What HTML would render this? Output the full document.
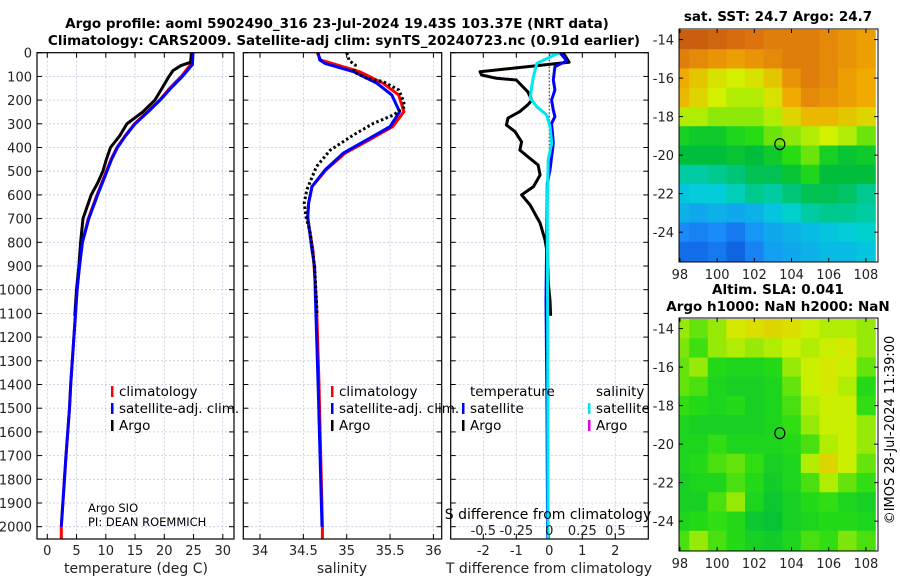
<!DOCTYPE html>
<html><head><meta charset="utf-8">
<style>
html,body{margin:0;padding:0;background:#fff;}
svg{display:block;font-family:"DejaVu Sans","Liberation Sans",sans-serif;}
</style></head>
<body>
<svg id="chart" width="900" height="580" viewBox="0 0 900 580" xmlns="http://www.w3.org/2000/svg">
<defs>
<clipPath id="c1"><rect x="37" y="52.7" width="197" height="486.3"/></clipPath>
<clipPath id="c2"><rect x="243.3" y="52.7" width="198.4" height="486.3"/></clipPath>
<clipPath id="c3"><rect x="450.7" y="52.7" width="197.6" height="486.3"/></clipPath>
<clipPath id="cm1"><rect x="679" y="29" width="199" height="233"/></clipPath>
<clipPath id="cm2"><rect x="679" y="318" width="199" height="233"/></clipPath>
</defs>
<g font-weight="bold" font-size="13.5" text-anchor="middle" fill="#000">
<text x="337" y="28">Argo profile: aoml 5902490_316 23-Jul-2024 19.43S 103.37E (NRT data)</text>
<text x="344" y="45">Climatology: CARS2009. Satellite-adj clim: synTS_20240723.nc (0.91d earlier)</text>
<text x="778" y="21">sat. SST: 24.7 Argo: 24.7</text>
<text x="778" y="294">Altim. SLA: 0.041</text>
<text x="778" y="311">Argo h1000: NaN h2000: NaN</text>
</g>
<text x="0" y="0" font-size="13" text-anchor="middle" transform="translate(894,430) rotate(-90)">©IMOS 28-Jul-2024 11:39:00</text>
<g id="layer"></g>
</svg>
<script>
// ---------- data ----------
const depthTicks=[0,100,200,300,400,500,600,700,800,900,1000,1100,1200,1300,1400,1500,1600,1700,1800,1900,2000];
const tempTicks=[0,5,10,15,20,25,30];
const salTicks=[34,34.5,35,35.5,36];
const tdiffTicks=[-2,-1,0,1,2];
const sdiffTickLabels=["-0.5","-0.25","0","0.25","0.5"];
const sdiffTicks=[-0.5,-0.25,0,0.25,0.5];

const climTDepth=[0,50,100,150,200,250,300,350,400,450,500,600,700,800,900,1000,1400,1500,1700,2000,2050];
const climTVal=[24.6,24.5,22.9,20.9,19.2,17.1,14.9,13.3,11.9,10.9,10.1,8.5,7.0,6.0,5.5,5.1,4.0,3.8,3.2,2.4,2.4];
const satTDepth=[0,50,100,150,200,250,300,350,400,450,500,600,700,800,900,1000,1400,1500,1700,2000];
const satTVal=[24.9,24.8,23.1,21.1,19.3,17.2,15.0,13.4,12.0,11.0,10.2,8.6,7.1,6.0,5.5,5.1,4.0,3.8,3.2,2.4];
const argoTDepth=[0,40,55,75,100,150,200,250,300,350,400,450,500,550,600,700,800,900,1000,1110];
const argoTVal=[24.7,24.5,22.8,21.5,20.8,19.6,18.4,16.3,13.6,12.4,10.8,10.1,9.5,8.6,7.5,6.1,5.7,5.4,5.0,4.7];

const climSDepth=[0,31,80,129,178,249,312,368,424,495,565,635,700,832,1044,1400,2000,2050];
const climSVal=[34.66,34.70,35.15,35.42,35.60,35.66,35.53,35.26,34.98,34.76,34.60,34.56,34.55,34.61,34.65,34.68,34.72,34.72];
const satSDepth=[0,31,45,80,129,178,249,312,368,424,495,565,635,692,832,903,1044,1400,2000];
const satSVal=[34.67,34.69,34.75,35.08,35.35,35.52,35.61,35.50,35.23,34.96,34.75,34.60,34.56,34.55,34.60,34.63,34.64,34.67,34.715];
const argoSDepth=[0,34,52,80,108,122,157,200,228,263,298,347,411,481,579,635,692,761,903,1044,1110];
const argoSVal=[35.0,35.03,35.10,35.08,35.23,35.42,35.60,35.65,35.67,35.54,35.31,35.08,34.81,34.65,34.54,34.51,34.53,34.58,34.63,34.65,34.66];

const argoTDiffDepth=[0,40,80,94,108,115,165,200,220,249,276,305,333,376,411,439,474,516,565,600,643,719,790,846,973,1044,1110];
const argoTDiffVal=[0.42,0.6,-2.1,-2.05,-1.6,-1.0,-0.65,-0.53,-0.65,-0.9,-1.25,-1.3,-1.04,-0.84,-0.89,-0.65,-0.34,-0.28,-0.48,-0.84,-0.58,-0.28,-0.13,-0.06,-0.03,0.02,0.04];
const satTDiffDepth=[0,34,59,115,157,200,242,270,298,382,495,551,1044,1500,2050];
const satTDiffVal=[0.32,0.53,0.17,0.12,0.17,0.07,0.12,0.17,0.07,0.12,0.02,-0.06,-0.1,-0.07,-0.05];
const satSDiffDepth=[0,2,45,101,143,192,228,263,312,382,453,622,1200,2050];
const satSDiffVal=[0.0,0.068,-0.095,-0.12,-0.133,-0.145,-0.095,-0.02,0.005,0.018,-0.008,-0.015,-0.012,-0.01];

const lonTicks=[98,100,102,104,106,108];
const latTicks=[-14,-16,-18,-20,-22,-24];
const mapLons=[98,99,100,101,102,103,104,105,106,107,108];
const mapLats=[-14,-15,-16,-17,-18,-19,-20,-21,-22,-23,-24,-25];
const sstGrid=[
[26.3,26.3,26.2,26.1,26.0,25.9,25.9,25.9,25.8,25.7,25.6],
[25.9,25.8,25.7,25.6,25.7,25.8,25.9,25.9,25.8,25.7,25.6],
[25.5,25.3,25.1,25.0,25.1,25.3,25.7,25.9,25.8,25.6,25.5],
[25.4,25.2,25.0,24.9,24.9,25.1,25.5,25.8,25.7,25.6,25.5],
[24.9,24.9,24.8,24.8,24.8,24.9,25.2,25.4,25.4,25.3,25.2],
[24.3,24.2,24.2,24.4,24.5,24.7,24.8,24.9,25.0,24.9,24.7],
[24.0,24.0,24.0,24.1,24.0,24.2,24.5,24.7,24.3,24.1,24.2],
[23.5,23.5,23.6,23.7,23.9,23.9,24.1,24.4,24.0,24.0,24.0],
[23.1,23.2,23.2,23.4,23.6,23.5,23.7,23.9,23.9,23.8,23.6],
[22.9,22.8,22.9,22.8,22.9,23.1,23.3,23.5,23.6,23.6,23.5],
[22.5,22.4,22.5,22.3,22.6,22.8,22.9,23.0,23.1,23.2,23.3],
[22.2,22.2,22.3,22.1,22.4,22.7,22.8,22.9,23.0,23.0,23.1]];
const slaGrid=[
[.62,.58,.62,.68,.70,.72,.70,.66,.64,.64,.62],
[.60,.55,.62,.64,.62,.64,.66,.64,.66,.68,.62],
[.58,.62,.52,.50,.50,.52,.62,.66,.68,.66,.58],
[.58,.56,.50,.48,.48,.50,.58,.66,.68,.64,.52],
[.54,.52,.50,.52,.48,.50,.56,.64,.66,.66,.54],
[.50,.48,.48,.48,.48,.50,.54,.62,.66,.66,.62],
[.50,.50,.54,.50,.50,.50,.52,.56,.64,.66,.62],
[.50,.52,.56,.58,.54,.48,.50,.64,.72,.66,.58],
[.48,.50,.50,.56,.52,.46,.50,.56,.64,.58,.54],
[.48,.48,.56,.62,.50,.44,.48,.52,.54,.50,.48],
[.50,.52,.54,.52,.44,.42,.48,.50,.52,.52,.50],
[.56,.62,.56,.52,.48,.46,.50,.56,.54,.60,.56]];
const argoLon=103.37, argoLat=-19.43;

// ---------- helpers ----------
const NS="http://www.w3.org/2000/svg";
const layer=document.getElementById('layer');
function mk(tag,attrs,parent){const e=document.createElementNS(NS,tag);for(const k in attrs)e.setAttribute(k,attrs[k]);(parent||layer).appendChild(e);return e;}
const yD=d=>52.7+0.237*d;
const xT=t=>47.3+5.85*t;
const xS=s=>260+86.7*(s-34);
const xTD=t=>549.3+33*t;
const xSD=s=>549.3+132*s;
const PANELS=[{x0:37,x1:234,clip:'c1'},{x0:243.3,x1:441.7,clip:'c2'},{x0:450.7,x1:648.3,clip:'c3'}];
const Y0=52.7,Y1=539;

PANELS.forEach((p,i)=>{
  const g=mk('g',{});
  
  
  depthTicks.forEach(d=>{const y=yD(d);mk('line',{x1:p.x0,x2:p.x1,y1:y,y2:y,stroke:'#c4c8e4','stroke-width':0.8,'stroke-dasharray':'2,2'},g);
    mk('line',{x1:p.x0,x2:p.x0+5,y1:y,y2:y,stroke:'#000','stroke-width':1},g);
    mk('line',{x1:p.x1-5,x2:p.x1,y1:y,y2:y,stroke:'#000','stroke-width':1},g);});
  const xs=i==0?tempTicks.map(xT):i==1?salTicks.map(xS):tdiffTicks.map(xTD);
  xs.forEach(x=>{mk('line',{x1:x,x2:x,y1:Y0,y2:Y1,stroke:'#c4c8e4','stroke-width':0.8,'stroke-dasharray':'2,2'},g);
    mk('line',{x1:x,x2:x,y1:Y1-5,y2:Y1,stroke:'#000','stroke-width':1},g);
    mk('line',{x1:x,x2:x,y1:Y0,y2:Y0+5,stroke:'#000','stroke-width':1},g);});
});
const dl=mk('g',{'font-size':13,'text-anchor':'end',fill:'#222'});


depthTicks.forEach(d=>{const t=mk('text',{x:32,y:yD(d)+5},dl);t.textContent=d;});
function xlabels(ticks,labels,fn,y,name){const g=mk('g',{'font-size':13,'text-anchor':'middle',fill:'#222'});
  
  
  ticks.forEach((v,i)=>{const t=mk('text',{x:fn(v),y:y},g);t.textContent=labels[i];});}
xlabels(tempTicks,tempTicks,xT,555,'temperature-tick-labels');
xlabels(salTicks,salTicks,xS,555,'salinity-tick-labels');
xlabels(tdiffTicks,tdiffTicks,xTD,555,'tdiff-tick-labels');
const ax=[['temperature (deg C)',136,'temperature-axis-title'],['salinity',342,'salinity-axis-title'],['T difference from climatology',549,'tdiff-axis-title']];
ax.forEach(a=>{const t=mk('text',{x:a[1],y:573,'font-size':14,'text-anchor':'middle',fill:'#222'});t.textContent=a[0];
  
  });

function series(depths,vals,fn,clip,color,w,name,dash){
  const pts=depths.map((d,i)=>fn(vals[i]).toFixed(1)+','+yD(d).toFixed(1)).join(' ');
  const a={points:pts,fill:'none',stroke:color,'stroke-width':w,'stroke-linejoin':'round','clip-path':'url(#'+clip+')'};
  if(dash)a['stroke-dasharray']=dash;
  const pl=mk('polyline',a);
  
  
}
series(climTDepth,climTVal,xT,'c1','#f00',3,'clim-temperature-line');
series(argoTDepth,argoTVal,xT,'c1','#000',3,'argo-temperature-line');
series(satTDepth,satTVal,xT,'c1','#00f',3,'sat-temperature-line');
series(climSDepth,climSVal,xS,'c2','#f00',3,'clim-salinity-line');
series(satSDepth,satSVal,xS,'c2','#00f',3,'sat-salinity-line');
series(argoSDepth,argoSVal,xS,'c2','#000',3,'argo-salinity-line','2.5,2.5');
const zl=mk('line',{x1:xTD(0),x2:xTD(0),y1:yD(0),y2:yD(450),stroke:'#444','stroke-width':1.2,'stroke-dasharray':'1.5,2'});


series(argoTDiffDepth,argoTDiffVal,xTD,'c3','#000',3,'argo-tdiff-line');
series(satTDiffDepth,satTDiffVal,xTD,'c3','#00f',3,'sat-tdiff-line');
series(satSDiffDepth,satSDiffVal,xSD,'c3','#00e8f0',3,'sat-sdiff-line');

PANELS.forEach((p,i)=>{const r=mk('rect',{x:p.x0,y:Y0,width:p.x1-p.x0,height:Y1-Y0,fill:'none',stroke:'#000','stroke-width':1.2});
  
  });

const sdt=mk('text',{x:548,y:519,'font-size':14,'text-anchor':'middle',fill:'#000'});sdt.textContent='S difference from climatology';


xlabels(sdiffTicks,sdiffTickLabels,xSD,535,'sdiff-tick-labels');

function legend(x,y,color,label,name){const g=mk('g',{});
  
  
  mk('rect',{x:x,y:y-10,width:2.5,height:11,fill:color},g);
  const t=mk('text',{x:x+8,y:y,'font-size':13.5,fill:'#000'},g);t.textContent=label;}
legend(111,396,'#f00','climatology','legend-climatology-t');
legend(111,413,'#00f','satellite-adj. clim.','legend-satellite-t');
legend(111,430,'#000','Argo','legend-argo-t');
legend(331,396,'#f00','climatology','legend-climatology-s');
legend(331,413,'#00f','satellite-adj. clim.','legend-satellite-s');
legend(331,430,'#000','Argo','legend-argo-s');
const lt=mk('text',{x:470,y:396,'font-size':13.5});lt.textContent='temperature';


const ls=mk('text',{x:596,y:396,'font-size':13.5});ls.textContent='salinity';


legend(462,413,'#00f','satellite','legend-tdiff-satellite');
legend(462,430,'#000','Argo','legend-tdiff-argo');
legend(588,413,'#00e8f0','satellite','legend-sdiff-satellite');
legend(588,430,'#e000e0','Argo','legend-sdiff-argo');
const pi1=mk('text',{x:88,y:512,'font-size':11.5});pi1.textContent='Argo SIO';


const pi2=mk('text',{x:88,y:526,'font-size':11.5});pi2.textContent='PI: DEAN ROEMMICH';



// ---------- maps ----------
function jet(t){t=Math.max(0,Math.min(1,t));
  const stops=[[0,[0,40,190]],[0.2,[25,140,250]],[0.35,[0,210,215]],[0.5,[0,190,60]],[0.6,[40,220,20]],[0.7,[210,240,0]],[0.8,[240,170,0]],[0.9,[220,115,15]],[1,[190,80,15]]];
  for(let i=1;i<stops.length;i++){if(t<=stops[i][0]){const a=stops[i-1],b=stops[i],f=(t-a[0])/(b[0]-a[0]);
    return 'rgb('+a[1].map((v,k)=>Math.round(v+(b[1][k]-v)*f)).join(',')+')';}}
  return 'rgb(190,80,15)';}
function drawMap(y0,grid,norm,clip,name){
  const X0=679,X1=878,Y1m=y0+233,lon0=97.95,lon1=108.65,lat0=-13.45,lat1=-25.55;
  const xL=l=>X0+(l-lon0)/(lon1-lon0)*(X1-X0);
  const yL=l=>y0+(l-lat0)/(lat1-lat0)*(Y1m-y0);
  const g=mk('g',{'clip-path':'url(#'+clip+')'});
  
  
  grid.forEach((row,r)=>row.forEach((v,c)=>{
    const xa=xL(mapLons[c]-0.5),xb=xL(mapLons[c]+0.5),ya=yL(mapLats[r]+0.5),yb=yL(mapLats[r]-0.5);
    const cell=mk('rect',{x:xa.toFixed(1),y:ya.toFixed(1),width:(xb-xa+0.6).toFixed(1),height:(yb-ya+0.6).toFixed(1),fill:jet(norm(v))},g);
    
    
  }));
  const fr=mk('rect',{x:X0,y:y0,width:X1-X0,height:233,fill:'none',stroke:'#000','stroke-width':1});
  
  
  const tg=mk('g',{'font-size':13,fill:'#222'});
  
  
  lonTicks.forEach(l=>{const x=xL(l);mk('line',{x1:x,x2:x,y1:Y1m-4,y2:Y1m,stroke:'#000'},tg);mk('line',{x1:x,x2:x,y1:y0,y2:y0+4,stroke:'#000'},tg);
    const t=mk('text',{x:x,y:Y1m+17,'text-anchor':'middle'},tg);t.textContent=l;});
  latTicks.forEach(l=>{const y=yL(l);mk('line',{x1:X0,x2:X0+4,y1:y,y2:y,stroke:'#000'},tg);mk('line',{x1:X1-4,x2:X1,y1:y,y2:y,stroke:'#000'},tg);
    const t=mk('text',{x:674,y:y+5,'text-anchor':'end'},tg);t.textContent=l;});
  const c=mk('ellipse',{cx:xL(argoLon),cy:yL(argoLat),rx:5,ry:5.5,fill:'none',stroke:'#000','stroke-width':1.2});
  
  
}
drawMap(29,sstGrid,v=>(v-21.5)/5,'cm1','sst-map');
drawMap(318,slaGrid,v=>0.53+(v-0.44)*0.75,'cm2','sla-map');
</script>
</body></html>
